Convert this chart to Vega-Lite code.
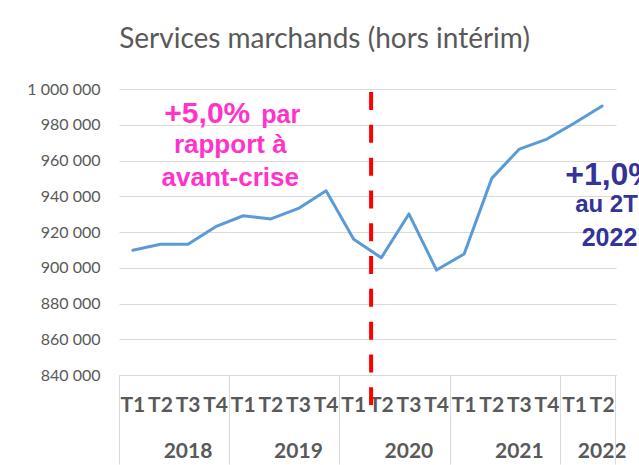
{
  "$schema": "https://vega.github.io/schema/vega-lite/v6.json",
  "autosize": {"type": "none"},
  "width": 497,
  "height": 286,
  "padding": {"left": 119, "top": 89, "right": 23, "bottom": 90},
  "background": "white",
  "config": {"view": {"stroke": null}},
  "title": {
    "text": "Services marchands (hors intérim)",
    "font": "Lato",
    "fontSize": 28,
    "fontWeight": "normal",
    "color": "#595959",
    "anchor": "middle",
    "frame": "group",
    "baseline": "alphabetic",
    "offset": 5,
    "dx": -43
  },
  "data": {
    "values": [
      {"trimestre": "2018 T1", "emploi": 909800},
      {"trimestre": "2018 T2", "emploi": 913100},
      {"trimestre": "2018 T3", "emploi": 913100},
      {"trimestre": "2018 T4", "emploi": 923000},
      {"trimestre": "2019 T1", "emploi": 929100},
      {"trimestre": "2019 T2", "emploi": 927300},
      {"trimestre": "2019 T3", "emploi": 933200},
      {"trimestre": "2019 T4", "emploi": 943100},
      {"trimestre": "2020 T1", "emploi": 915900},
      {"trimestre": "2020 T2", "emploi": 905600},
      {"trimestre": "2020 T3", "emploi": 930100},
      {"trimestre": "2020 T4", "emploi": 898700},
      {"trimestre": "2021 T1", "emploi": 907700},
      {"trimestre": "2021 T2", "emploi": 950000},
      {"trimestre": "2021 T3", "emploi": 966400},
      {"trimestre": "2021 T4", "emploi": 972000},
      {"trimestre": "2022 T1", "emploi": 981000},
      {"trimestre": "2022 T2", "emploi": 990500}
    ]
  },
  "resolve": {"axis": {"x": "independent", "y": "independent"}},
  "layer": [
    {
      "mark": {"type": "line", "color": "#5B9BD5", "strokeWidth": 3, "strokeCap": "round", "strokeJoin": "round"},
      "encoding": {
        "x": {
          "field": "trimestre", "type": "nominal", "sort": null,
          "scale": {"type": "band", "paddingInner": 0, "paddingOuter": 0},
          "axis": {
            "orient": "bottom", "title": null, "ticks": false, "grid": false,
            "domain": true, "domainColor": "#D9D9D9", "domainWidth": 1,
            "labelExpr": "slice(datum.value, 5)", "labelAngle": 0,
            "labelFont": "Lato", "labelFontSize": 21, "labelFontWeight": "bold",
            "labelColor": "#595959", "labelBaseline": "middle", "labelPadding": 30,
            "labelOverlap": false, "labelBound": false, "labelFlush": false
          }
        },
        "y": {
          "field": "emploi", "type": "quantitative",
          "scale": {"domain": [840000, 1000000], "nice": false, "zero": false},
          "axis": {
            "orient": "left", "title": null, "domain": false, "ticks": false, "grid": true,
            "gridColor": "#D9D9D9", "gridWidth": 1,
            "values": [840000, 860000, 880000, 900000, 920000, 940000, 960000, 980000, 1000000],
            "labelExpr": "replace(replace(format(datum.value, ','), ',', ' '), ',', ' ')",
            "labelFont": "Lato", "labelFontSize": 16, "labelColor": "#595959",
            "labelPadding": 19, "labelBaseline": "middle"
          }
        }
      }
    },
    {
      "data": {"values": [{}]},
      "mark": {"type": "rule", "color": "#FF0000", "strokeWidth": 4, "strokeDash": [18, 14.8]},
      "encoding": {
        "x": {
          "datum": "2020 T2", "type": "nominal", "bandPosition": 0.13,
          "axis": {
            "orient": "bottom", "title": null, "ticks": false, "grid": false, "domain": false,
            "bandPosition": 0, "labelOffset": 55.2,
            "values": ["2018 T1", "2019 T1", "2020 T1", "2021 T1", "2021 T4"],
            "labelExpr": "datum.value == '2021 T4' ? '2022' : slice(datum.value, 0, 4)",
            "labelAngle": 0, "labelFont": "Lato", "labelFontSize": 21, "labelFontWeight": "bold",
            "labelColor": "#595959", "labelBaseline": "middle", "labelPadding": 76,
            "labelOverlap": false, "labelBound": false, "labelFlush": false
          }
        },
        "y": {"datum": 998300, "type": "quantitative", "axis": null},
        "y2": {"datum": 823200}
      }
    },
    {
      "data": {"values": [{}]},
      "mark": {"type": "text", "text": "+5,0%", "font": "Liberation Sans", "fontWeight": "bold", "fontSize": 30, "color": "#FF33CC", "align": "right", "baseline": "alphabetic", "dx": 7},
      "encoding": {
        "x": {
          "datum": "2019 T1", "type": "nominal",
          "axis": {
            "orient": "bottom", "title": null, "labels": false, "grid": false, "domain": false,
            "bandPosition": 0, "ticks": true, "tickSize": 89, "tickColor": "#D9D9D9", "tickWidth": 1,
            "values": ["2018 T1", "2019 T1", "2020 T1", "2021 T1", "2022 T1"]
          }
        },
        "y": {"datum": 981150, "type": "quantitative", "axis": null}
      }
    },
    {
      "data": {"values": [{}]},
      "mark": {"type": "text", "text": "par", "font": "Liberation Sans", "fontWeight": "bold", "fontSize": 25, "color": "#FF33CC", "align": "left", "baseline": "alphabetic", "dx": 18},
      "encoding": {
        "x": {
          "datum": "2019 T1", "type": "nominal",
          "axis": {
            "orient": "bottom", "title": null, "labels": false, "grid": false, "domain": false,
            "bandPosition": 1, "ticks": true, "tickSize": 89, "tickColor": "#D9D9D9", "tickWidth": 1,
            "values": ["2022 T2"]
          }
        },
        "y": {"datum": 981150, "type": "quantitative", "axis": null}
      }
    },
    {
      "data": {"values": [{}]},
      "mark": {"type": "text", "text": "rapport à", "font": "Liberation Sans", "fontWeight": "bold", "fontSize": 26, "color": "#FF33CC", "align": "center", "baseline": "alphabetic", "dx": -13},
      "encoding": {
        "x": {"datum": "2019 T1", "type": "nominal", "axis": null},
        "y": {"datum": 964000, "type": "quantitative", "axis": null}
      }
    },
    {
      "data": {"values": [{}]},
      "mark": {"type": "text", "text": "avant-crise", "font": "Liberation Sans", "fontWeight": "bold", "fontSize": 26, "color": "#FF33CC", "align": "center", "baseline": "alphabetic", "dx": -13},
      "encoding": {
        "x": {"datum": "2019 T1", "type": "nominal", "axis": null},
        "y": {"datum": 945700, "type": "quantitative", "axis": null}
      }
    },
    {
      "data": {"values": [{}]},
      "mark": {"type": "text", "text": "+1,0%", "font": "Liberation Sans", "fontWeight": "bold", "fontSize": 32, "color": "#333399", "align": "left", "baseline": "alphabetic", "dx": -37},
      "encoding": {
        "x": {"datum": "2022 T2", "type": "nominal", "axis": null},
        "y": {"datum": 946300, "type": "quantitative", "axis": null}
      }
    },
    {
      "data": {"values": [{}]},
      "mark": {"type": "text", "text": "au 2T", "font": "Liberation Sans", "fontWeight": "bold", "fontSize": 24, "color": "#333399", "align": "left", "baseline": "alphabetic", "dx": -27},
      "encoding": {
        "x": {"datum": "2022 T2", "type": "nominal", "axis": null},
        "y": {"datum": 931300, "type": "quantitative", "axis": null}
      }
    },
    {
      "data": {"values": [{}]},
      "mark": {"type": "text", "text": "2022", "font": "Liberation Sans", "fontWeight": "bold", "fontSize": 25, "color": "#333399", "align": "left", "baseline": "alphabetic", "dx": -20.5},
      "encoding": {
        "x": {"datum": "2022 T2", "type": "nominal", "axis": null},
        "y": {"datum": 912300, "type": "quantitative", "axis": null}
      }
    }
  ]
}
